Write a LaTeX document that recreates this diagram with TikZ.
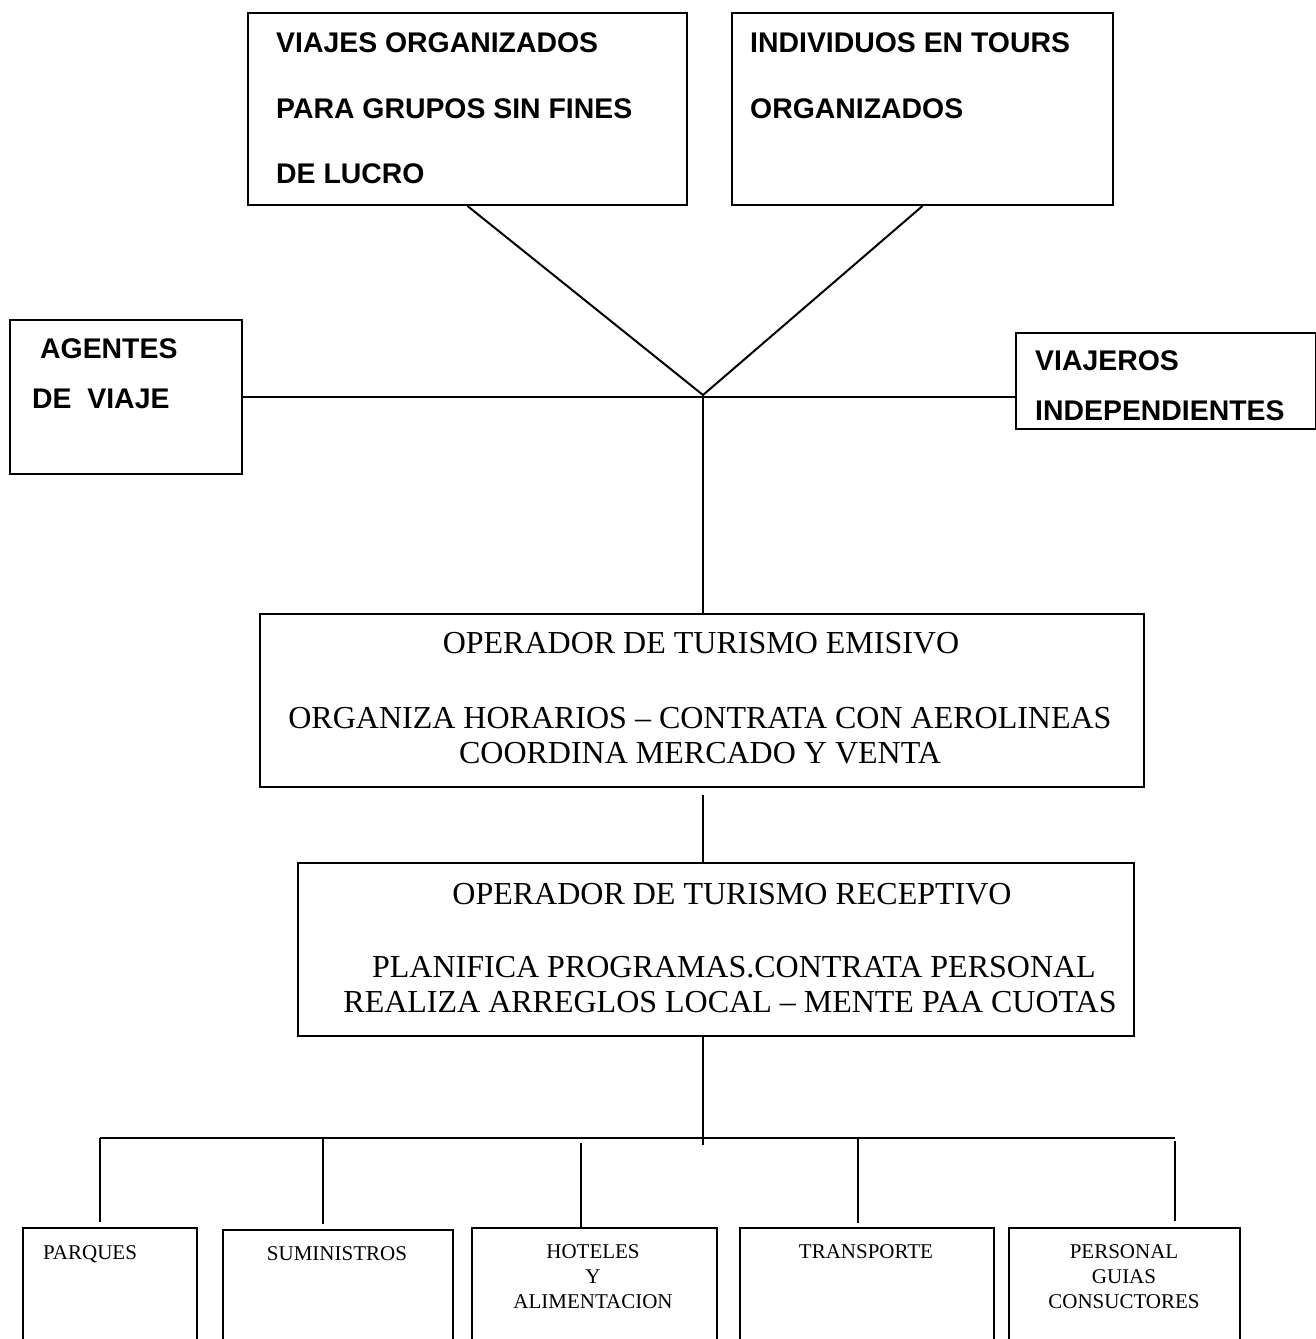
\documentclass[tikz,border=0pt]{standalone}
\usepackage{fontspec}
\setmainfont{Liberation Serif}
\newfontfamily\arialfam{Liberation Sans}
\tikzset{
  box/.style={draw, line width=2pt, inner sep=0pt, anchor=north west},
  hd/.style={font=\arialfam\bfseries\fontsize{28.4}{34}\selectfont, anchor=base west, inner sep=0pt},
  op/.style={font=\fontsize{32}{38}\selectfont, anchor=base, inner sep=0pt},
  sm/.style={font=\fontsize{21}{21}\selectfont, anchor=base, inner sep=0pt},
  conn/.style={line width=2pt},
}
\begin{document}
\begin{tikzpicture}[x=1pt,y=1pt]
\useasboundingbox (0,0) rectangle (1316,-1339);
\clip (0,0) rectangle (1316,-1339);
% top boxes
\node[box, minimum width=439pt, minimum height=192pt] (b1) at (247,-12) {};
\node[hd] (t1a) at (276,-52) {VIAJES ORGANIZADOS};
\node[hd] (t1b) at (276,-118) {PARA GRUPOS SIN FINES};
\node[hd] (t1c) at (276,-183) {DE LUCRO};
\node[box, minimum width=381pt, minimum height=192pt] (b2) at (731,-12) {};
\node[hd] (t2a) at (750,-52) {INDIVIDUOS EN TOURS};
\node[hd] (t2b) at (750,-118) {ORGANIZADOS};
% side boxes
\node[box, minimum width=232pt, minimum height=154pt] (ag) at (9,-319) {};
\node[hd] (taga) at (40,-358) {AGENTES};
\node[hd] (tagb) at (32,-408) {DE\ \ VIAJE};
\node[box, minimum width=300pt, minimum height=96pt] (vi) at (1015,-332) {};
\node[hd] (tvia) at (1035,-370) {VIAJEROS};
\node[hd] (tvib) at (1035,-420) {INDEPENDIENTES};
% operators
\node[box, minimum width=884pt, minimum height=173pt] (em) at (259,-613) {};
\node[op] (tema) at (701,-653) {OPERADOR DE TURISMO EMISIVO};
\node[op] (temb) at (700,-728) {ORGANIZA HORARIOS – CONTRATA CON AEROLINEAS};
\node[op] (temc) at (700,-763) {COORDINA MERCADO Y VENTA};
\node[box, minimum width=836pt, minimum height=173pt] (re) at (297,-862) {};
\node[op] (trea) at (732,-904) {OPERADOR DE TURISMO RECEPTIVO};
\node[op] (treb) at (734,-977) {PLANIFICA PROGRAMAS.CONTRATA PERSONAL};
\node[op] (trec) at (730,-1012) {REALIZA ARREGLOS LOCAL – MENTE PAA CUOTAS};
% bottom boxes
\node[box, minimum width=174pt, minimum height=140pt] (pa) at (22,-1227) {};
\node[sm, anchor=base west] (tpa) at (43,-1259) {PARQUES};
\node[box, minimum width=230pt, minimum height=140pt] (su) at (222,-1229) {};
\node[sm] (tsu) at (337,-1260) {SUMINISTROS};
\node[box, minimum width=245pt, minimum height=140pt] (ho) at (471,-1227) {};
\node[sm] (thoa) at (593,-1258) {HOTELES};
\node[sm] (thob) at (593,-1283) {Y};
\node[sm] (thoc) at (593,-1308) {ALIMENTACION};
\node[box, minimum width=254pt, minimum height=140pt] (tr) at (739,-1227) {};
\node[sm] (ttr) at (866,-1258) {TRANSPORTE};
\node[box, minimum width=231pt, minimum height=140pt] (pe) at (1008,-1227) {};
\node[sm] (tpea) at (1124,-1258) {PERSONAL};
\node[sm] (tpeb) at (1124,-1283) {GUIAS};
\node[sm] (tpec) at (1124,-1308) {CONSUCTORES};
% connectors
\coordinate (J) at (703,-395);
\draw[conn] (b1.south) -- (J);
\draw[conn] (b2.south) -- (J);
\draw[conn] (ag.east) -- (ag.east -| vi.west);
\draw[conn] (J) -- (J |- em.north);
\draw[conn] ([yshift=-7pt]em.south -| J) -- (re.north -| J);
\coordinate (busL) at (100,-1138);
\coordinate (busR) at (1175,-1138);
\draw[conn] (re.south -| J) -- ([yshift=-7pt]busL -| J);
\draw[conn] (busL) -- (busR);
\draw[conn] (busL) -- ([yshift=5pt]busL |- pa.north);
\draw[conn] (busL -| 323,0) -- ([yshift=5pt]su.north -| 323,0);
\draw[conn] ([yshift=-5pt]busL -| 581,0) -- (ho.north -| 581,0);
\draw[conn] (busL -| 858,0) -- ([yshift=4pt]tr.north -| 858,0);
\draw[conn] ([yshift=-3pt]busR) -- ([yshift=6pt]busR |- pe.north);
\end{tikzpicture}
\end{document}
